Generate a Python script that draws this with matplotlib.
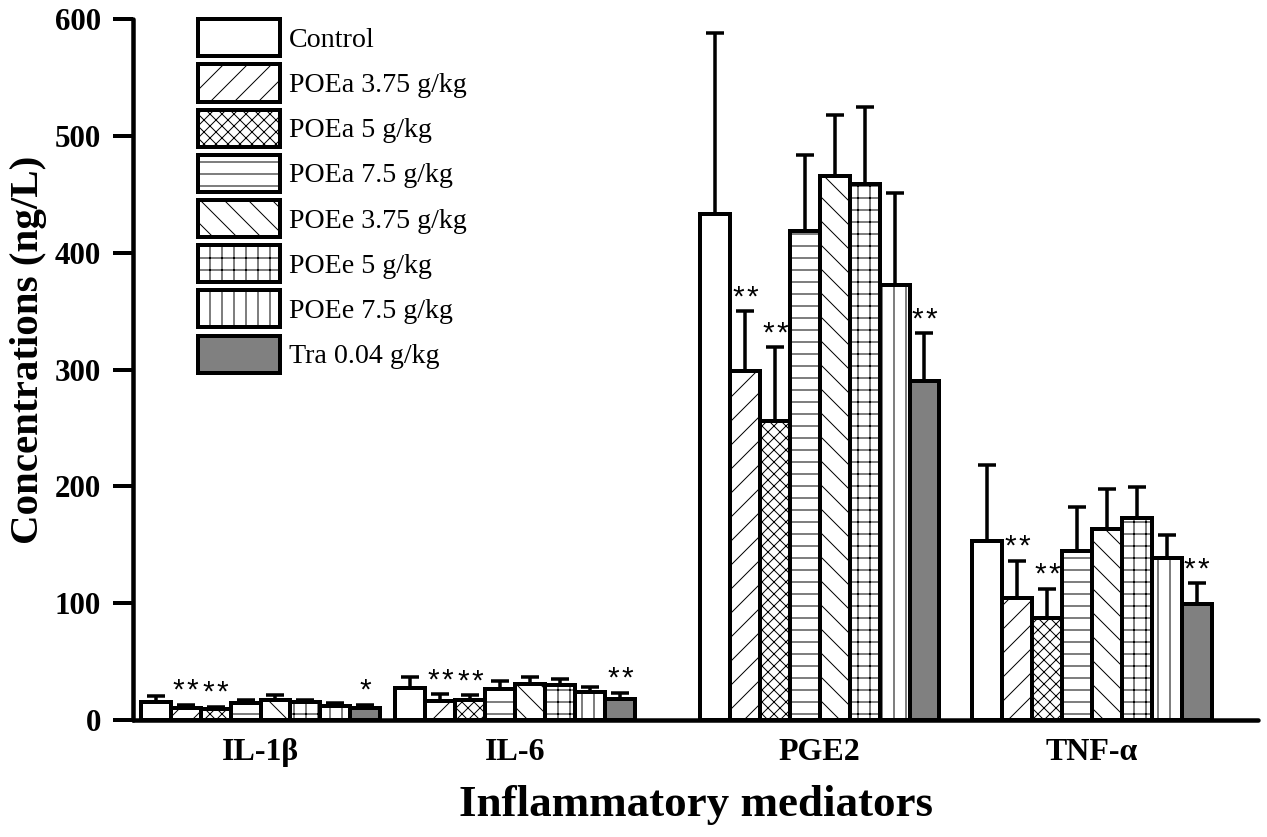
import matplotlib
matplotlib.use("Agg")
import matplotlib.pyplot as plt
import numpy as np

# data
mediators = ["IL-1β", "IL-6", "PGE2", "TNF-α"]
groups = ["Control", "POEa 3.75 g/kg", "POEa 5 g/kg", "POEa 7.5 g/kg",
          "POEe 3.75 g/kg", "POEe 5 g/kg", "POEe 7.5 g/kg", "Tra 0.04 g/kg"]

# rows = groups, cols = mediators
means = [
    [15, 27, 433, 153],
    [10, 16, 299, 104],
    [9, 17, 256, 87],
    [14, 26, 419, 145],
    [17, 31, 466, 163],
    [15, 30, 459, 173],
    [12, 24, 372, 139],
    [10, 18, 290, 99],
]
errors = [
    [5, 10, 155, 65],
    [3, 6, 51, 32],
    [2, 4, 63, 25],
    [3, 7, 65, 37],
    [4, 6, 52, 35],
    [2, 5, 66, 26],
    [2, 4, 79, 19],
    [3, 5, 41, 18],
]
stars = [
    ["", "", "", ""],
    ["**", "**", "**", "**"],
    ["**", "**", "**", "**"],
    ["", "", "", ""],
    ["", "", "", ""],
    ["", "", "", ""],
    ["", "", "", ""],
    ["*", "**", "**", "**"],
]

hatches = ["", "/", "xx", "-", "\\", "+", "|", ""]
fills = ["white"] * 7 + ["#808080"]

plt.rcParams['font.family'] = ['Liberation Serif', 'DejaVu Serif']
plt.rcParams['hatch.linewidth'] = 1.0

fig = plt.figure(figsize=(1267 / 72, 837 / 72), dpi=72)
ax = fig.add_axes([0.105, 0.14, 0.888, 0.837])

group_x = np.array([0, 0.919, 2.018, 3.0])
w = 0.108

for i, g in enumerate(groups):
    xs = group_x + (i - 3.5) * w
    ax.bar(xs, means[i], w, color=fills[i], edgecolor="black", linewidth=4,
           hatch=hatches[i], label=g, zorder=2)
    ax.errorbar(xs, means[i], yerr=[np.zeros(4), errors[i]], fmt="none",
                ecolor="black", elinewidth=3.5, capsize=9, capthick=3.5, zorder=1)
    for j in range(4):
        n = len(stars[i][j])
        # draw each asterisk on its own so the gap between them matches
        for k in range(n):
            dx = (k - (n - 1) / 2) * 14
            ax.annotate("*", (xs[j], means[i][j] + errors[i][j]),
                        xytext=(dx, 14), textcoords="offset points",
                        ha="center", va="center", fontsize=30,
                        family="Liberation Sans")

ax.set_xlim(-0.46, 3.6)
ax.set_ylim(0, 600)
ax.set_yticks([0, 100, 200, 300, 400, 500, 600])
ax.set_xticks(group_x)
ax.set_xticklabels(mediators, fontsize=32, fontweight="bold")
ax.tick_params(axis="x", length=0, pad=18)
ax.tick_params(axis="y", length=20, width=4, direction="out", pad=12, labelsize=31)
for t in ax.get_yticklabels():
    t.set_fontweight("bold")

for s in ["top", "right"]:
    ax.spines[s].set_visible(False)
for s in ["left", "bottom"]:
    ax.spines[s].set_linewidth(4.5)
    ax.spines[s].set_capstyle("round")

ax.set_ylabel("Concentrations (ng/L)", fontsize=41, fontweight="bold")
ax.yaxis.set_label_coords(-0.0764, 0.528)
ax.set_xlabel("Inflammatory mediators", fontsize=45, fontweight="bold", labelpad=18)

ax.legend(loc="upper left", bbox_to_anchor=(0.058, 1.0), frameon=False,
          fontsize=28, handlelength=2.93, handleheight=1.66, labelspacing=0.29,
          handletextpad=0.3, borderaxespad=0, borderpad=0)

fig.savefig("out.png", dpi=72)
